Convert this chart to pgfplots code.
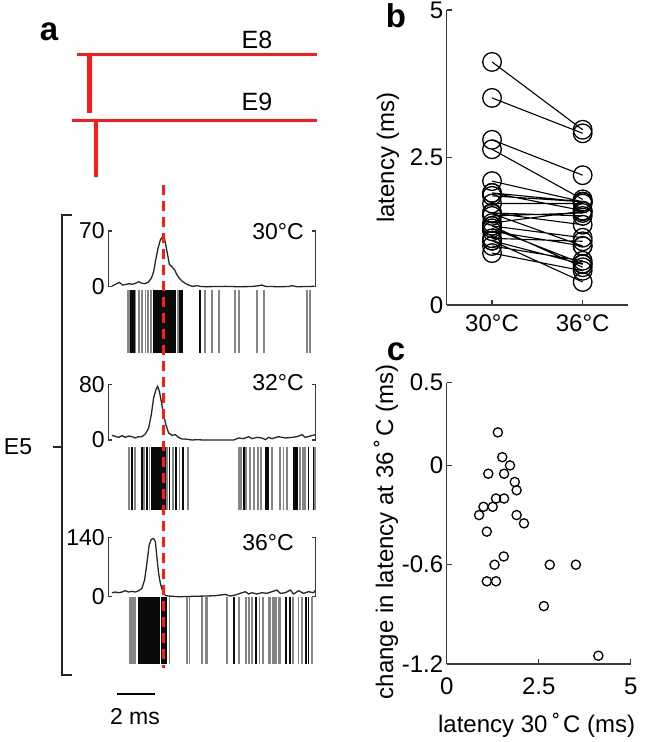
\documentclass[border=0pt]{standalone}
\usepackage{fontspec}
\setmainfont{Liberation Sans}
\usepackage{pgfplots}
\pgfplotsset{compat=1.18}
\definecolor{axg}{HTML}{3A3A3A}
\definecolor{rgray}{HTML}{858585}
\definecolor{rblack}{HTML}{0A0A0A}
\definecolor{myred}{HTML}{FF1A1A}
\newcommand\fs{\fontsize{23}{26}\selectfont}
\newcommand\fb{\fontsize{24}{27}\selectfont}
\newcommand\fe{\fontsize{25}{28}\selectfont}
\newcommand\fl{\fontsize{33}{35}\selectfont\bfseries}
\newcommand\degr{\hspace{0.2em}˚\hspace{0.12em}}
\pgfplotsset{
 psth/.style={scale only axis, width=207.36pt, xmin=0, xmax=10.8, ymin=0,
   separate axis lines, axis x line=none, axis y line=box, xtick=\empty,
   tick align=inside, major tick length=4pt,
   axis line style={line width=1.3pt, axg}, every tick/.style={line width=1.3pt, axg},
   yticklabel style={font=\fs, text=black}, /pgf/number format/assume math mode=true,
   clip=false, anchor=south west},
 raster/.style={scale only axis, width=207.36pt, xmin=0, xmax=10.8, ymin=0, ymax=1,
   hide axis, clip=false, anchor=south west},
 gs/.style={ycomb, rgray, line width=1.8pt, mark=none},
 bs/.style={ycomb, rblack, line width=1.8pt, mark=none},
 tr/.style={black!85, line width=1.3pt, mark=none},
}
\begin{document}
\begin{tikzpicture}
\useasboundingbox (0,0) rectangle (645pt,-742pt);
% ---------------- PSTH 30C
\begin{axis}[psth, at={(108.3pt,-286.7pt)}, height=55.7pt, ymax=70, ytick={0,70}]
\addplot[tr] coordinates {(0.19,0.8)(0.36,2.9)(0.57,5.4)(0.75,2.1)(0.92,2.9)(1.09,3.8)(1.23,2.9)(1.44,4.6)(1.58,6.3)(1.72,4.6)(1.89,3.8)(2.07,5.4)(2.24,10.5)(2.36,18.9)(2.45,31.4)(2.59,48.2)(2.71,58.7)(2.83,63)(2.93,60)(3.06,44)(3.18,28)(3.32,25)(3.46,21)(3.58,14.7)(3.70,10.5)(3.84,7.1)(4.01,4.2)(4.18,2.1)(4.39,0.4)(4.62,1.3)(4.79,0.4)(5.05,0)(5.57,0.2)(6.09,0.4)(6.79,0)(7.48,0.2)(7.83,1.3)(8.00,2.1)(8.18,0.4)(8.87,0)(9.39,0.2)(9.57,1.3)(9.83,0)(10.26,0.2)(10.61,0.4)(10.7,1.0)};
\end{axis}
\begin{axis}[raster, at={(108.3pt,-353.3pt)}, height=63.3pt]
\addplot[gs] coordinates {(1.01,1)(1.08,1)(1.42,1)(1.61,1)(1.77,1)(1.94,1)(2.08,1)(2.22,1)(3.61,1)(5.02,1)(5.42,1)(5.78,1)(6.61,1)(6.81,1)(7.74,1)(8.13,1)(10.35,1)(10.52,1)};
\addplot[bs] coordinates {(1.16,1)(1.25,1)(1.32,1)(2.36,1)(2.42,1)(2.48,1)(2.54,1)(2.60,1)(2.66,1)(2.72,1)(2.78,1)(2.84,1)(2.90,1)(2.96,1)(3.02,1)(3.08,1)(3.14,1)(3.20,1)(3.26,1)(3.32,1)(3.38,1)(3.44,1)(3.49,1)(3.75,1)(3.84,1)(4.76,1)};
\end{axis}
% ---------------- PSTH 32C
\begin{axis}[psth, at={(108.3pt,-440pt)}, height=55.7pt, ymax=80, ytick={0,80}]
\addplot[tr] coordinates {(0.19,6.7)(0.36,5.3)(0.54,3.8)(0.71,6.2)(0.89,3.8)(1.06,5.7)(1.23,4.8)(1.41,2.9)(1.58,4.8)(1.75,4.8)(1.93,8.6)(2.10,17.2)(2.24,36.4)(2.36,60.4)(2.48,72.3)(2.57,77.1)(2.66,69.9)(2.76,55.6)(2.88,36.4)(3.00,22)(3.14,10.1)(3.32,6.7)(3.49,7.7)(3.66,3.8)(3.84,1.4)(4.01,1.4)(4.36,0)(4.62,0.5)(4.97,0)(5.40,0)(6.09,0)(6.53,0)(6.79,2.9)(7.05,1.9)(7.31,4.8)(7.48,1.9)(7.74,3.8)(8.00,2.9)(8.18,0.5)(8.35,3.8)(8.52,1.9)(8.87,4.8)(9.22,2.9)(9.57,3.8)(9.83,4.8)(10.09,7.7)(10.26,3.8)(10.52,5.7)(10.78,7.7)};
\end{axis}
\begin{axis}[raster, at={(108.3pt,-510pt)}, height=63.3pt]
\addplot[gs] coordinates {(1.06,1)(1.41,1)(1.88,1)(2.15,1)(3.06,1)(3.37,1)(3.71,1)(4.15,1)(6.79,1)(6.91,1)(7.19,1)(7.36,1)(7.57,1)(7.78,1)(7.95,1)(8.53,1)(8.96,1)(9.13,1)(9.31,1)(10.0,1)(10.14,1)(10.26,1)(10.78,1)};
\addplot[bs] coordinates {(1.23,1)(1.76,1)(2.02,1)(2.28,1)(2.34,1)(2.40,1)(2.46,1)(2.52,1)(2.58,1)(2.64,1)(2.70,1)(2.76,1)(2.82,1)(2.88,1)(2.94,1)(2.97,1)(3.19,1)(3.54,1)(3.89,1)(7.05,1)(8.21,1)(8.30,1)(9.69,1)(9.73,1)(9.77,1)(9.83,1)(10.43,1)(10.69,1)};
\end{axis}
% ---------------- PSTH 36C
\begin{axis}[psth, at={(108.3pt,-596.7pt)}, height=59.4pt, ymax=140, ytick={0,140}]
\addplot[tr] coordinates {(0.19,9.4)(0.36,11)(0.54,9.4)(0.71,11)(0.89,14.2)(1.06,11)(1.23,12.6)(1.41,11)(1.58,14.2)(1.75,19.7)(1.89,39.4)(2.01,78.7)(2.13,122)(2.24,135.4)(2.36,137)(2.45,129.9)(2.53,94.4)(2.62,55.1)(2.71,31.5)(2.80,17.3)(2.88,7.9)(2.97,3.1)(3.14,1.6)(3.66,0)(4.36,0.8)(5.05,1.6)(5.57,2.4)(6.09,5.5)(6.35,1.6)(6.61,3.9)(6.87,7.9)(7.14,11.8)(7.31,6.3)(7.48,9.4)(7.74,6.3)(8.00,9.4)(8.26,7.9)(8.52,11.8)(8.78,15.7)(8.96,7.9)(9.22,9.4)(9.48,15.7)(9.65,6.3)(9.91,14.2)(10.17,7.9)(10.43,11.8)(10.69,9.4)(10.8,15.7)};
\end{axis}
\begin{axis}[raster, at={(108.3pt,-664pt)}, height=66.7pt]
\addplot[gs] coordinates {(1.11,1)(1.19,1)(1.27,1)(1.35,1)(1.41,1)(3.19,1)(4.10,1)(4.23,1)(4.88,1)(5.10,1)(5.17,1)(6.18,1)(6.79,1)(7.19,1)(7.31,1)(7.48,1)(7.88,1)(8.06,1)(8.35,1)(8.45,1)(8.55,1)(8.65,1)(8.75,1)(8.87,1)(8.96,1)(9.62,1)(9.91,1)(10.09,1)(10.61,1)};
\addplot[bs] coordinates {(1.58,1)(1.64,1)(1.70,1)(1.76,1)(1.82,1)(1.88,1)(1.94,1)(2.00,1)(2.06,1)(2.12,1)(2.18,1)(2.24,1)(2.30,1)(2.36,1)(2.42,1)(2.48,1)(2.54,1)(2.60,1)(2.66,1)(2.80,1)(2.88,1)(2.97,1)(3.02,1)(6.53,1)(7.71,1)(9.27,1)(9.48,1)(10.31,1)(10.43,1)};
\end{axis}
% ---------------- panel b
\begin{axis}[at={(446.7pt,-305pt)}, anchor=south west, scale only axis, width=181.3pt, height=295pt,
  xmin=0.5, xmax=2.5, ymin=0, ymax=5, axis x line*=bottom, axis y line*=left,
  xtick={1,2}, xticklabels={30°C,36°C}, ytick={0,2.5,5}, yticklabels={0,2.5,5},
  tick align=inside, major tick length=5pt,
  axis line style={line width=1.3pt, axg}, every tick/.style={line width=1.3pt, axg},
  ticklabel style={font=\fb}, xticklabel style={yshift=-6pt},
  ylabel={latency (ms)}, ylabel style={font=\fb, at={(axis description cs:-0.324,0.5)}, anchor=center},
  clip=false]
\addplot[only marks, mark=o, mark size=9.3pt, mark options={line width=1.3pt, black}] coordinates {
(1,1.39)(1,1.51)(1,1.72)(1,1.13)(1,1.56)(1,1.85)(1,1.90)(1,1.34)(1,1.56)(1,1.00)(1,1.25)(1,0.88)(1,1.90)(1,2.10)(1,1.09)(1,1.55)(1,1.30)(1,2.80)(1,3.51)(1,1.09)(1,1.34)(1,2.64)(1,4.12)
(2,1.59)(2,1.56)(2,1.72)(2,1.08)(2,1.51)(2,1.75)(2,1.75)(2,1.14)(2,1.36)(2,0.75)(2,1.00)(2,0.58)(2,1.60)(2,1.75)(2,0.69)(2,1.00)(2,0.70)(2,2.20)(2,2.91)(2,0.39)(2,0.64)(2,1.79)(2,2.97)};
\addplot[black, line width=1.1pt, mark=none, unbounded coords=jump] coordinates {
(1,1.39)(2,1.59)(1,nan)(1,1.51)(2,1.56)(1,nan)(1,1.72)(2,1.72)(1,nan)(1,1.13)(2,1.08)(1,nan)
(1,1.56)(2,1.51)(1,nan)(1,1.85)(2,1.75)(1,nan)(1,1.90)(2,1.75)(1,nan)(1,1.34)(2,1.14)(1,nan)
(1,1.56)(2,1.36)(1,nan)(1,1.00)(2,0.75)(1,nan)(1,1.25)(2,1.00)(1,nan)(1,0.88)(2,0.58)(1,nan)
(1,1.90)(2,1.60)(1,nan)(1,2.10)(2,1.75)(1,nan)(1,1.09)(2,0.69)(1,nan)(1,1.55)(2,1.00)(1,nan)
(1,1.30)(2,0.70)(1,nan)(1,2.80)(2,2.20)(1,nan)(1,3.51)(2,2.91)(1,nan)(1,1.09)(2,0.39)(1,nan)
(1,1.34)(2,0.64)(1,nan)(1,2.64)(2,1.79)(1,nan)(1,4.12)(2,2.97)};
\end{axis}
% ---------------- panel c
\begin{axis}[at={(446.7pt,-664pt)}, anchor=south west, scale only axis, width=184pt, height=281.3pt,
  xmin=0, xmax=5, ymin=-1.2, ymax=0.5, axis x line*=bottom, axis y line*=left,
  xtick={0,2.5,5}, xticklabels={0,2.5,5}, ytick={-1.2,-0.6,0,0.5}, yticklabels={-1.2,-0.6,0,0.5},
  tick align=inside, major tick length=5pt,
  axis line style={line width=1.3pt, axg}, every tick/.style={line width=1.3pt, axg},
  ticklabel style={font=\fb}, xticklabel style={yshift=-10pt},
  xlabel={latency 30\degr C (ms)}, xlabel style={font=\fb, at={(axis description cs:0.489,-0.217)}, anchor=center},
  ylabel={change in latency at 36\degr C (ms)}, ylabel style={font=\fb, at={(axis description cs:-0.33,0.47)}, anchor=center},
  clip=false]
\addplot[only marks, mark=o, mark size=4.6pt, mark options={line width=1.3pt, black}] coordinates {
(1.39,0.20)(1.51,0.05)(1.72,0.00)(1.13,-0.05)(1.56,-0.05)(1.85,-0.10)(1.90,-0.15)(1.34,-0.20)(1.56,-0.20)(1.00,-0.25)(1.25,-0.25)(0.88,-0.30)(1.90,-0.30)(2.10,-0.35)(1.09,-0.40)(1.55,-0.55)(1.30,-0.60)(2.80,-0.60)(3.51,-0.60)(1.09,-0.70)(1.34,-0.70)(2.64,-0.85)(4.12,-1.15)};
\end{axis}
% ---------------- overlay in pixel coordinates
\begin{axis}[at={(0pt,0pt)}, anchor=north west, scale only axis, width=645pt, height=742pt,
  xmin=0, xmax=645, ymin=0, ymax=742, y dir=reverse, hide axis, clip=false]
\addplot[myred, line width=3pt, mark=none] coordinates {(76.7,54.3)(316.7,54.3)};
\addplot[myred, line width=4.5pt, mark=none] coordinates {(89.3,54.3)(89.3,112.7)};
\addplot[myred, line width=3pt, mark=none] coordinates {(71.7,120)(316.7,120)};
\addplot[myred, line width=4.5pt, mark=none] coordinates {(96,120)(96,177.3)};
\addplot[myred, line width=3pt, mark=none, dash pattern=on 10pt off 6pt] coordinates {(163,185)(163,668)};
\addplot[black!85, line width=2pt, mark=none] coordinates {(71.7,215)(62.3,215)(62.3,675)(71.7,675)};
\addplot[black!85, line width=2pt, mark=none] coordinates {(53.3,446.7)(62.3,446.7)};
\addplot[black, line width=2.3pt, mark=none] coordinates {(116.7,694)(155,694)};
\node[font=\fl] at (axis cs:49,32) {a};
\node[font=\fl] at (axis cs:396,16) {b};
\node[font=\fl] at (axis cs:396,352) {c};
\node[font=\fe] at (axis cs:257,40) {E8};
\node[font=\fe] at (axis cs:257,102) {E9};
\node[font=\fs] at (axis cs:278,232) {30°C};
\node[font=\fs] at (axis cs:278,383) {32°C};
\node[font=\fs] at (axis cs:268,543) {36°C};
\node[font=\fs] at (axis cs:18,447) {E5};
\node[font=\fs] at (axis cs:135,717) {2 ms};
\end{axis}
\end{tikzpicture}
\end{document}
